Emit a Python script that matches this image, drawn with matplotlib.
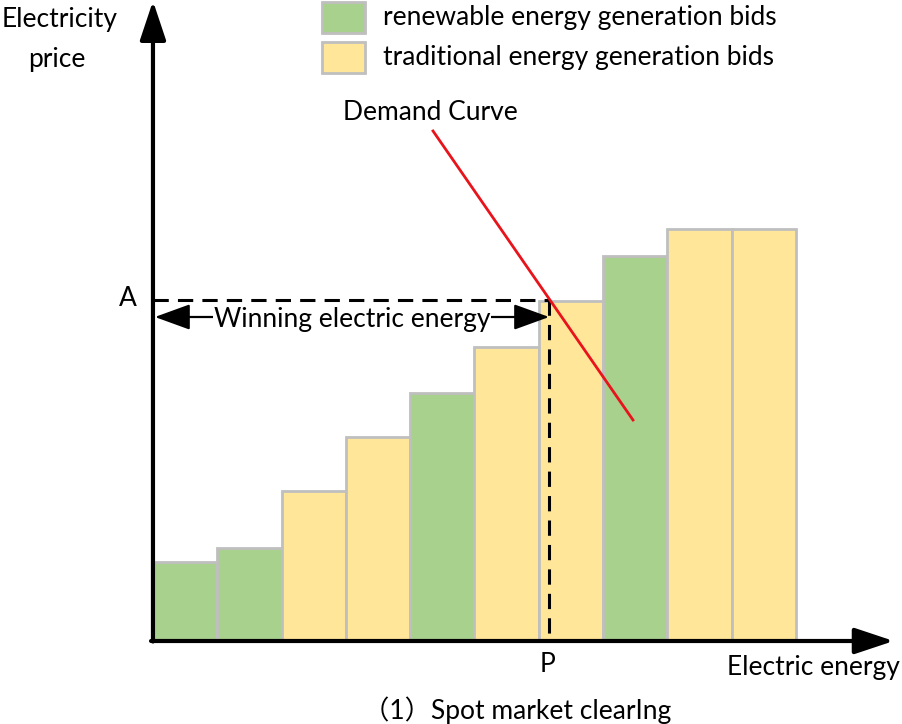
import matplotlib
matplotlib.use("Agg")
import matplotlib.pyplot as plt
from matplotlib.patches import Rectangle

plt.rcParams['font.family'] = ['Lato', 'Noto Sans CJK SC', 'DejaVu Sans']

# ---- data ----
bid_types = ["renewable", "renewable", "traditional", "traditional", "renewable",
             "traditional", "traditional", "renewable", "traditional", "traditional"]
bid_prices = [7.9, 9.3, 15.0, 20.4, 24.8, 29.4, 34.0, 38.5, 41.2, 41.2]
bid_widths = [1, 1, 1, 1, 1, 1, 1, 1, 1, 1]
demand_x = [4.355, 7.465]
demand_y = [51.0, 22.1]
clear_price = 34.1   # A
clear_energy = 6.16  # P
legend_labels = ["renewable energy generation bids", "traditional energy generation bids"]

colors = {"renewable": "#A9D18E", "traditional": "#FFE699"}
edge = "#BFBFBF"
FS = 19

def px(x):
    return (x - 153) / 64.3

def py(y):
    return (641 - y) / 10

fig = plt.figure(figsize=(9.03, 7.24), dpi=100)
ax = fig.add_axes([0, 0, 1, 1])
ax.set_xlim(-2.379, 11.664)
ax.set_ylim(-8.3, 64.1)
ax.axis("off")

# bars
x0 = 0.0
for t, p, w in zip(bid_types, bid_prices, bid_widths):
    ax.add_patch(Rectangle((x0, 0), w, p, facecolor=colors[t], edgecolor=edge, linewidth=2, zorder=2))
    x0 += w

# axes arrows
ax.annotate("", xy=(0.0, 64.0), xytext=(0.0, -0.05),
            arrowprops=dict(arrowstyle="-|>,head_length=1.2,head_width=0.4", mutation_scale=20,
                            color="black", lw=3, shrinkA=0, shrinkB=0), zorder=5)
ax.annotate("", xy=(11.52, 0.0), xytext=(-0.03, 0.0),
            arrowprops=dict(arrowstyle="-|>,head_length=1.2,head_width=0.4", mutation_scale=20,
                            color="black", lw=3, shrinkA=0, shrinkB=0), zorder=5)

# dashed clearing lines
ax.plot([0, clear_energy], [clear_price, clear_price], color="black", lw=2.2, ls=(0, (5, 3)), zorder=4)
ax.plot([clear_energy, clear_energy], [clear_price, 0], color="black", lw=2.2, ls=(0, (5, 3)), zorder=4)

# demand curve
ax.plot(demand_x, demand_y, color="#E8131B", lw=2, zorder=6)
ax.text(px(430), py(112), "Demand Curve", ha="center", va="center", fontsize=FS)

# winning arrow
yw = 32.4
ax.annotate("", xy=(0.03, yw), xytext=(clear_energy, yw),
            arrowprops=dict(arrowstyle="<|-|>,head_length=1.1,head_width=0.4", mutation_scale=20,
                            color="black", lw=1.6, shrinkA=0, shrinkB=0), zorder=5)
ax.text(px(352), yw - 0.3, "Winning electric energy", ha="center", va="center", fontsize=FS,
        bbox=dict(facecolor="white", edgecolor="none", pad=0.5), zorder=6)

# labels
ax.text(px(128), py(298), "A", ha="center", va="center", fontsize=FS)
ax.text(px(548), py(665), "P", ha="center", va="center", fontsize=FS)
ax.text(px(2), py(20), "Electricity", ha="left", va="center", fontsize=FS)
ax.text(px(57), py(59), "price", ha="center", va="center", fontsize=FS)
ax.text(px(813), py(668), "Electric energy", ha="center", va="center", fontsize=FS)
ax.text(px(517), py(710), "（1）Spot market clearIng", ha="center", va="center", fontsize=FS)

# legend
for i, (lab, t) in enumerate(zip(legend_labels, ["renewable", "traditional"])):
    top = py(2 + 40 * i)
    ax.add_patch(Rectangle((px(322), top - 3.1), px(365) - px(322), 3.1,
                           facecolor=colors[t], edgecolor=edge, linewidth=2))
    ax.text(px(383), top - 1.55, lab, ha="left", va="center", fontsize=FS)

fig.savefig("out.png", dpi=100)
